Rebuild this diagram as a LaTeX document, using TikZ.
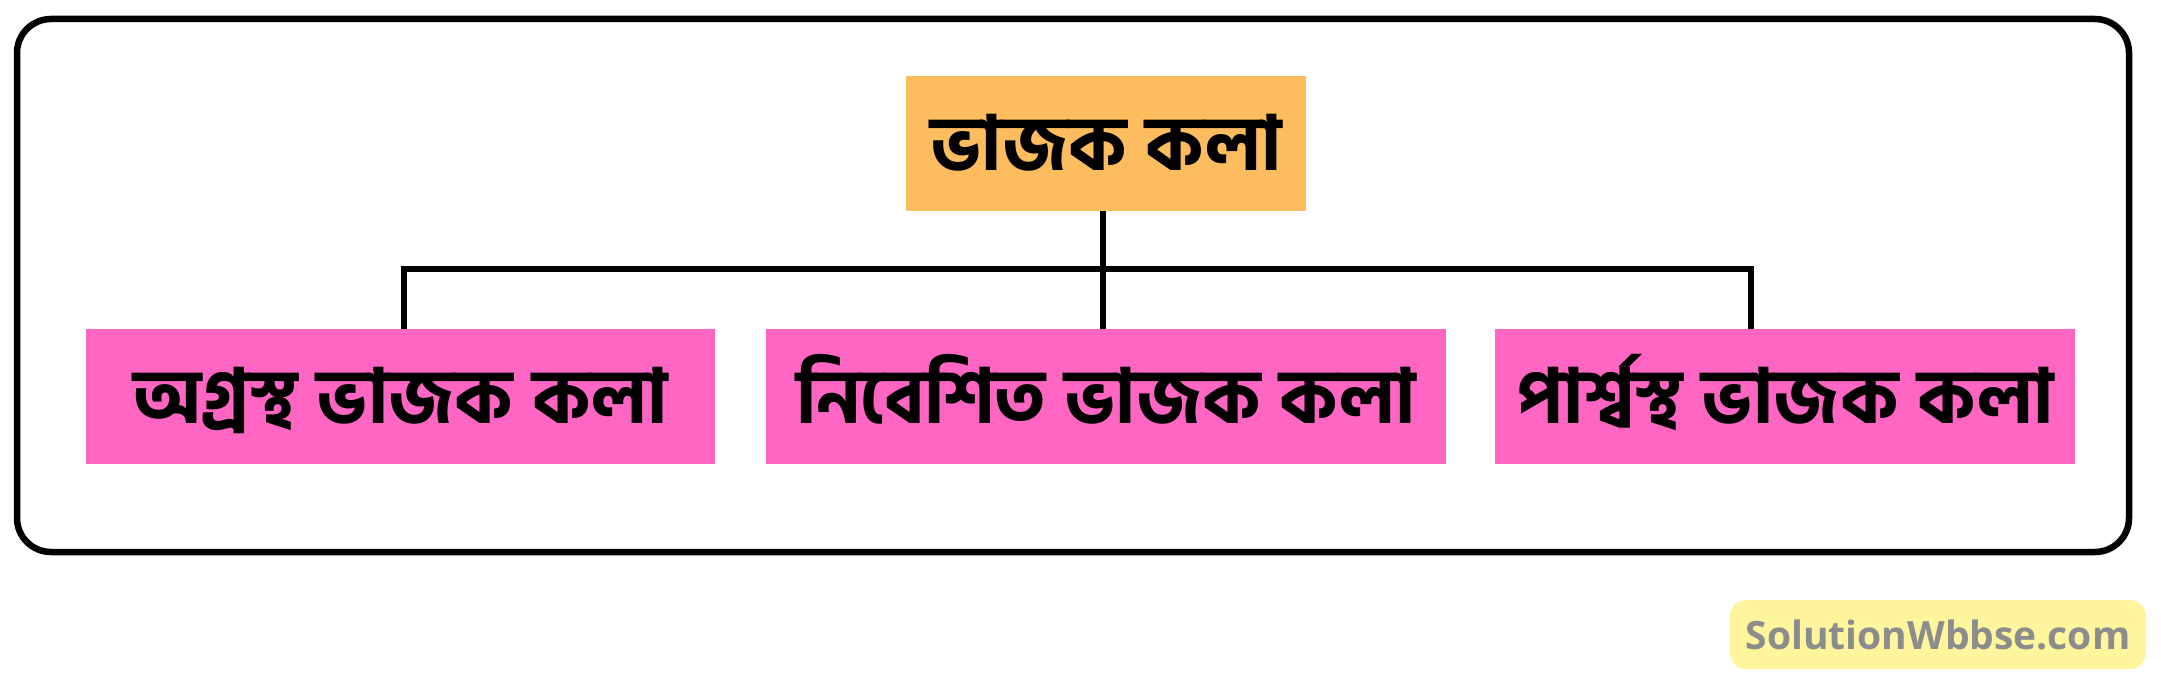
\documentclass[tikz,border=0pt]{standalone}
\usepackage{fontspec}
\newfontfamily\bn[Script=Bengali, UprightFont={* Bold}]{Hind Siliguri}
\newfontfamily\wm{Open Sans}
\definecolor{topfill}{HTML}{FDBD5F}
\definecolor{pinkfill}{HTML}{FF66C4}
\definecolor{wmfill}{HTML}{FFF59D}
\definecolor{wmtext}{HTML}{8C8C8C}
\begin{document}
\begin{tikzpicture}[x=1pt,y=-1pt,
  lbl/.style={rectangle, inner sep=0pt, minimum height=135pt, text=black,
    text height=53pt, text depth=0pt,
    font=\bn\fontsize{75}{80}\selectfont},
  topbox/.style={lbl, fill=topfill, minimum width=400pt},
  subbox/.style={lbl, fill=pinkfill},
  conn/.style={draw=black, line width=6pt, line join=miter}]
\useasboundingbox (0,0) rectangle (2161,685);
\draw[line width=6.5pt, rounded corners=34pt] (17,19) rectangle (2129,552);
\node[topbox] (top) at (1106,143.5) {ভাজক কলা};
\node[subbox, minimum width=629pt] (b1) at (400.5,396.5) {অগ্রস্থ ভাজক কলা};
\node[subbox, minimum width=680pt] (b2) at (1106,396.5) {নিবেশিত ভাজক কলা};
\node[subbox, minimum width=580pt] (b3) at (1785,396.5) {পার্শ্বস্থ ভাজক কলা};
\coordinate (j) at (1103,269);
\coordinate (c1) at (404,269);
\coordinate (c3) at (1751,269);
\draw[conn] (top.south -| j) -- (j);
\draw[conn] (b1.north -| c1) -- (c1) -- (c3) -- (b3.north -| c3);
\draw[conn] (j) -- (b2.north -| j);
\node[fill=wmfill, rounded corners=16pt, minimum width=416pt, minimum height=69pt, inner sep=0pt,
  text=wmtext, font=\wm\bfseries\fontsize{39}{44}\selectfont] (wm) at (1938,634.5) {SolutionWbbse.com};
\end{tikzpicture}
\end{document}
